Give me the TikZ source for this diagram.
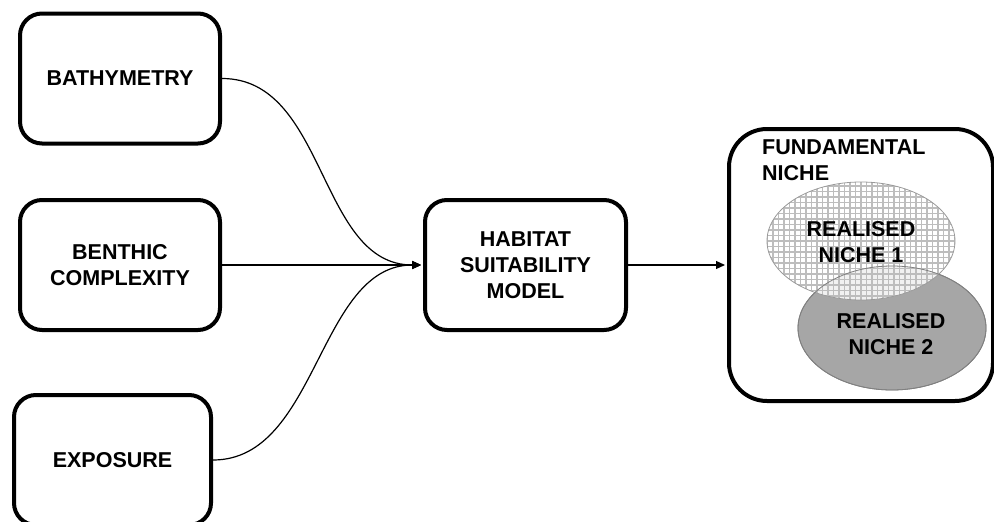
\documentclass[tikz,border=0pt]{standalone}
\usepackage{fontspec}
\setmainfont{Liberation Sans}
\usetikzlibrary{arrows.meta,shapes.geometric}
\definecolor{rntwofill}{HTML}{A6A6A6}
\definecolor{rntwoline}{HTML}{808080}
\definecolor{gridc}{HTML}{BDBDBD}
\definecolor{rnoneline}{HTML}{9A9A9A}
\begin{document}
\begin{tikzpicture}[x=1pt,y=-1pt,
  box/.style={draw, line width=4pt, rounded corners=22pt, align=center,
    font=\bfseries\fontsize{21.5}{26}\selectfont, inner sep=0pt},
  lbl/.style={align=center, font=\bfseries\fontsize{21.5}{26}\selectfont, inner sep=0pt},
  conn/.style={line width=1.2pt},
  arr/.style={conn, -{Triangle[length=9pt,width=8pt]}, shorten >=2pt}]
\useasboundingbox (0,0) rectangle (994,522);
% input boxes
\node[box, minimum width=200pt, minimum height=130pt] (bath) at (120,78.5) {BATHYMETRY};
\node[box, minimum width=200pt, minimum height=130pt] (benth) at (120,265) {BENTHIC\\COMPLEXITY};
\node[box, minimum width=197pt, minimum height=130pt] (expo) at (112.5,460) {EXPOSURE};
\node[box, minimum width=201pt, minimum height=130pt] (hsm) at (525.5,265) {HABITAT\\SUITABILITY\\MODEL};
% fundamental niche
\node[draw, line width=4pt, rounded corners=38pt, minimum width=264pt, minimum height=272pt, inner sep=0pt] (fund) at (861,265) {};
\node[lbl, align=left, anchor=north west] (fundlbl) at (762,140) {FUNDAMENTAL\\NICHE};
% realised niches
\node[ellipse, draw=rntwoline, line width=0.8pt, fill=rntwofill, minimum width=188pt, minimum height=124pt, inner sep=0pt] (rn2) at (892,328) {};
\node[ellipse, draw=rnoneline, line width=0.8pt, fill=white, fill opacity=0.85, minimum width=188pt, minimum height=118pt, inner sep=0pt,
  path picture={\draw[gridc, line width=1.2pt, step=5.5pt] (path picture bounding box.south west) grid (path picture bounding box.north east);}] (rn1) at (861,241) {};
\draw[rntwoline, line width=0.8pt] (rn2.center) ellipse [x radius=94, y radius=62];
\node[lbl] (rn1t) at (861,242) {REALISED\\NICHE 1};
\node[lbl] (rn2t) at (891,334) {REALISED\\NICHE 2};
% connectors
\draw[arr] (bath.east) .. controls +(105,0) and +(-105,0) .. (hsm.west);
\draw[arr] (benth.east) -- (hsm.west);
\draw[arr] (expo.east) .. controls +(105,0) and +(-105,0) .. (hsm.west);
\draw[arr] (hsm.east) -- (fund.west);
\end{tikzpicture}
\end{document}
